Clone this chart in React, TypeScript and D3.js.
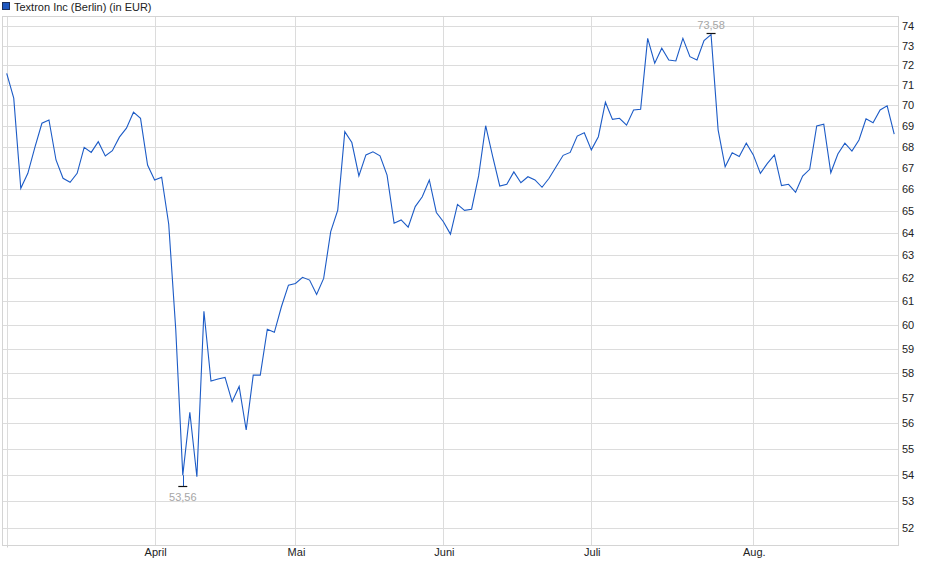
import React from 'react';
import * as d3 from 'd3';

// closing prices, one per trading day (3 Mar – 29 Aug)
const PRICES: number[] = [
  71.59, 70.35, 66.03, 66.73, 67.96, 69.12, 69.28, 67.36, 66.5, 66.31,
  66.73, 67.96, 67.72, 68.23, 67.55, 67.8, 68.45, 68.88, 69.66, 69.36,
  67.12, 66.42, 66.55, 64.4, 59.8, 53.98, 56.42, 53.92, 60.57, 57.67,
  57.75, 57.82, 56.84, 57.45, 55.72, 57.91, 57.91, 59.81, 59.68, 60.76,
  61.69, 61.76, 62.03, 61.91, 61.29, 61.98, 64.05, 65.03, 68.71, 68.19,
  66.61, 67.6, 67.75, 67.56, 66.65, 64.43, 64.58, 64.25, 65.19, 65.64,
  66.42, 64.92, 64.5, 63.94, 65.29, 65.02, 65.07, 66.61, 69.0, 67.52,
  66.14, 66.22, 66.8, 66.29, 66.57, 66.42, 66.08, 66.5, 67.04, 67.58,
  67.72, 68.5, 68.66, 67.84, 68.47, 70.15, 69.31, 69.36, 69.03, 69.77,
  69.8, 73.37, 72.1, 72.86, 72.26, 72.21, 73.37, 72.43, 72.26, 73.25,
  73.56, 68.8, 67.04, 67.7, 67.52, 68.16, 67.6, 66.73, 67.2, 67.6,
  66.16, 66.22, 65.85, 66.6, 66.92, 68.99, 69.07, 66.76, 67.64, 68.16,
  67.78, 68.31, 69.34, 69.15, 69.77, 69.97, 68.59,
];

// month gridlines: index of first trading day, label ('' = no label)
const MONTH_INDEX: number[] = [0, 21, 41, 62, 83, 106];
const MONTH_LABELS: string[] = ['', 'April', 'Mai', 'Juni', 'Juli', 'Aug.'];

const Y_TICKS: number[] = [52, 53, 54, 55, 56, 57, 58, 59, 60, 61, 62, 63, 64, 65, 66, 67, 68, 69, 70, 71, 72, 73, 74];

const LOW_MARK = { index: 25, value: 53.56, label: '53,56' };
const HIGH_MARK = { index: 100, value: 73.58, label: '73,58' };

const TITLE = 'Textron Inc (Berlin) (in EUR)';

const W = 940;
const H = 579;
const frame = { left: 2.5, right: 898.5, top: 16.5, bottom: 545.5 };

const font = '"Liberation Sans", Arial, sans-serif';

const App: React.FC = () => {
  const x = d3.scaleLinear().domain([0, PRICES.length - 1]).range([6.7, 894.2]);
  const y = d3.scaleLog().domain([51.37, 74.53]).range([545.7, 16]);

  const line = d3
    .line<number>()
    .x((_, i) => x(i))
    .y((d) => y(d));

  const crisp = (v: number) => Math.round(v) + 0.5;

  const lowX = x(LOW_MARK.index);
  const highX = x(HIGH_MARK.index);

  return (
    <div style={{ position: 'absolute', left: 0, top: 0 }}>
      <svg width={W} height={H} viewBox={`0 0 ${W} ${H}`} style={{ display: 'block', background: '#fff' }}>
        {/* legend */}
        <rect x={2.5} y={2.5} width={7} height={7} fill="#1d57c0" stroke="#1a2f5c" strokeWidth={1} />
        <text x={14} y={10.5} fontFamily={font} fontSize={11} fill="#222">
          {TITLE}
        </text>

        {/* horizontal grid */}
        {Y_TICKS.map((t) => (
          <line
            key={'h' + t}
            x1={frame.left}
            x2={frame.right}
            y1={crisp(y(t))}
            y2={crisp(y(t))}
            stroke="#dcdcdc"
            strokeWidth={1}
          />
        ))}

        {/* vertical month grid */}
        {MONTH_INDEX.map((m) => (
          <line
            key={'v' + m}
            x1={crisp(x(m))}
            x2={crisp(x(m))}
            y1={frame.top}
            y2={frame.bottom}
            stroke="#dcdcdc"
            strokeWidth={1}
          />
        ))}
        <line x1={crisp(x(0))} x2={crisp(x(0))} y1={frame.bottom} y2={frame.bottom + 2} stroke="#cfcfcf" />

        {/* frame */}
        <rect
          x={frame.left}
          y={frame.top}
          width={frame.right - frame.left}
          height={frame.bottom - frame.top}
          fill="none"
          stroke="#d4d4d4"
          strokeWidth={1}
        />

        {/* price line */}
        <path d={line(PRICES) ?? ''} fill="none" stroke="#1c5bc6" strokeWidth={1.1} strokeLinejoin="miter" />

        {/* low marker */}
        <line x1={crisp(lowX)} x2={crisp(lowX)} y1={y(PRICES[LOW_MARK.index])} y2={crisp(y(LOW_MARK.value))} stroke="#1c5bc6" />
        <line x1={lowX - 4.5} x2={lowX + 4.5} y1={crisp(y(LOW_MARK.value))} y2={crisp(y(LOW_MARK.value))} stroke="#111" strokeWidth={1.2} />
        <text x={lowX} y={y(LOW_MARK.value) + 14.5} textAnchor="middle" fontFamily={font} fontSize={11} fill="#a6a6a6">
          {LOW_MARK.label}
        </text>

        {/* high marker */}
        <line x1={highX - 4.5} x2={highX + 4.5} y1={crisp(y(HIGH_MARK.value)) - 1} y2={crisp(y(HIGH_MARK.value)) - 1} stroke="#111" strokeWidth={1.2} />
        <text x={highX} y={y(HIGH_MARK.value) - 5} textAnchor="middle" fontFamily={font} fontSize={11} fill="#a6a6a6">
          {HIGH_MARK.label}
        </text>

        {/* right axis labels */}
        {Y_TICKS.map((t) => (
          <text key={'t' + t} x={902} y={y(t) + 4} fontFamily={font} fontSize={11} fill="#222">
            {t}
          </text>
        ))}

        {/* month labels */}
        {MONTH_INDEX.map((m, i) =>
          MONTH_LABELS[i] ? (
            <text key={'m' + m} x={x(m) + 1} y={556} textAnchor="middle" fontFamily={font} fontSize={11} fill="#222">
              {MONTH_LABELS[i]}
            </text>
          ) : null
        )}
      </svg>
    </div>
  );
};

export default App;
